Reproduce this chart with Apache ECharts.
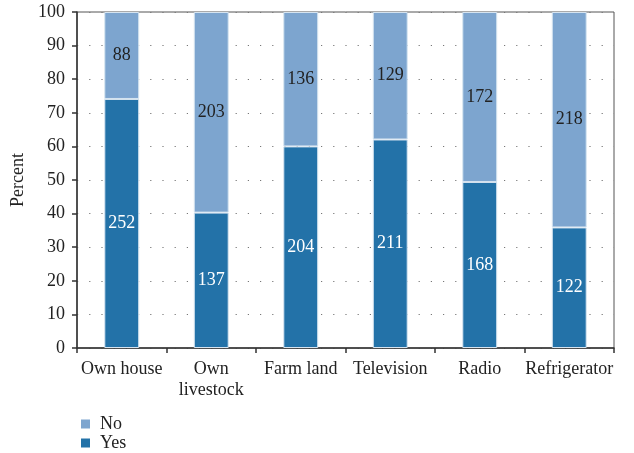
<!DOCTYPE html>
<html><head><meta charset="utf-8">
<script src="https://cdn.jsdelivr.net/npm/echarts@6/dist/echarts.min.js"></script>
<style>html,body{margin:0;padding:0;background:#fff}#c{width:634px;height:453px}</style>
</head><body><div id="c"></div>
<script>
var categories = ['Own house', 'Own\nlivestock', 'Farm land', 'Television', 'Radio', 'Refrigerator'];
var yesCounts = [252, 137, 204, 211, 168, 122];
var noCounts = [88, 203, 136, 129, 172, 218];
var yTicks = [0, 10, 20, 30, 40, 50, 60, 70, 80, 90, 100];

function pct(a, b) { return a.map(function (v, i) { return { value: v / (v + b[i]) * 100, count: v }; }); }
var yesData = pct(yesCounts, noCounts);
var noData = pct(noCounts, yesCounts);
var font = '"Liberation Serif", "DejaVu Serif", serif';
var fs = 18;

function leg(name, top) {
  return {
    left: 76, top: top, itemWidth: 9, itemHeight: 9, icon: 'rect', data: [name],
    itemStyle: { borderWidth: 0 },
    textStyle: { fontFamily: font, fontSize: fs, color: '#222', padding: [0, 0, 0, 5] }
  };
}

var chart = echarts.init(document.getElementById('c'), null, { renderer: 'canvas' });
chart.setOption({
  animation: false,
  textStyle: { fontFamily: font },
  grid: { left: 77, right: 20, top: 12, bottom: 105, show: true, borderColor: '#555', borderWidth: 1, backgroundColor: 'transparent' },
  legend: [leg('No', 410), leg('Yes', 429)],
  xAxis: {
    type: 'category', data: categories,
    axisLine: { lineStyle: { color: '#333', width: 1.5 } },
    axisTick: { show: true, length: 5, lineStyle: { color: '#333', width: 1.5 } },
    axisLabel: { fontFamily: font, fontSize: fs, color: '#222', margin: 11, lineHeight: 21, interval: 0 }
  },
  yAxis: {
    type: 'value', min: 0, max: 100, interval: 10,
    name: 'Percent', nameLocation: 'middle', nameGap: 49,
    nameTextStyle: { fontFamily: font, fontSize: fs, color: '#222' },
    axisLine: { show: true, lineStyle: { color: '#333', width: 1.5 } },
    axisTick: { show: true, length: 5, lineStyle: { color: '#333', width: 1.5 } },
    axisLabel: { fontFamily: font, fontSize: fs, color: '#222', margin: 12,
      formatter: function (v) { return yTicks.indexOf(v) >= 0 ? String(v) : ''; } },
    splitLine: { show: true, lineStyle: { color: '#777', width: 1, type: [1.2, 11] } }
  },
  series: [
    {
      name: 'Yes', type: 'bar', stack: 's', data: yesData, barWidth: '39%',
      itemStyle: { color: '#2372a8', borderColor: '#d6e4f0', borderWidth: 1 },
      label: { show: true, position: 'inside', fontFamily: font, fontSize: fs, color: '#fff',
        formatter: function (p) { return p.data.count; } }
    },
    {
      name: 'No', type: 'bar', stack: 's', data: noData, barWidth: '39%',
      itemStyle: { color: '#7da5cf', borderColor: '#d6e4f0', borderWidth: 1 },
      label: { show: true, position: 'inside', fontFamily: font, fontSize: fs, color: '#222',
        formatter: function (p) { return p.data.count; } }
    }
  ]
});
</script></body></html>
